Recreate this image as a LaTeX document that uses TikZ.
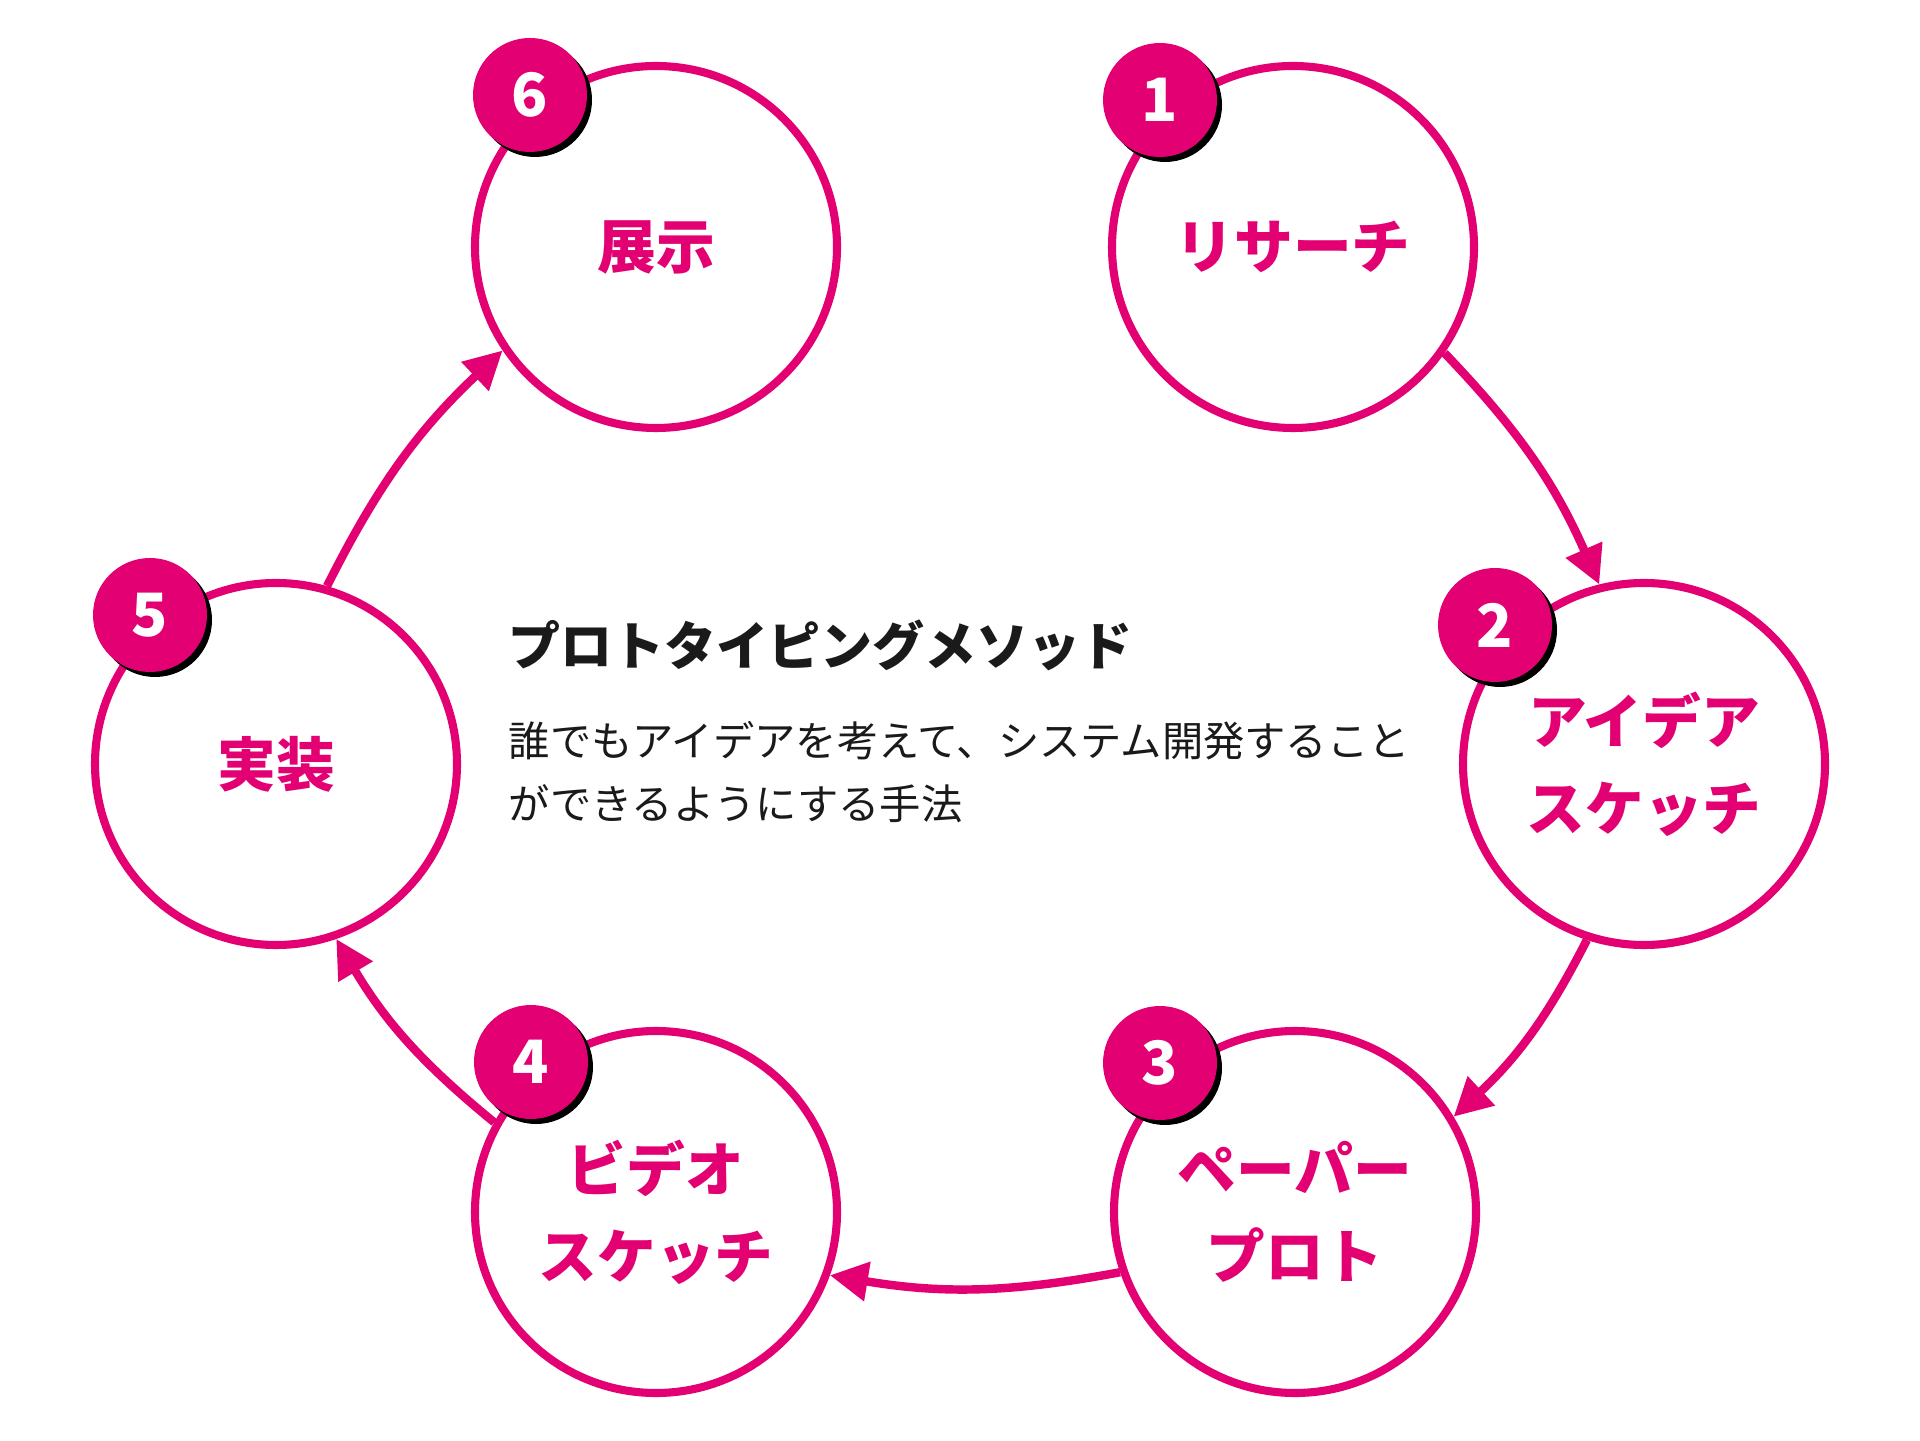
\documentclass[tikz,border=0pt]{standalone}
\usepackage{fontspec}
\newfontfamily\jp{Noto Sans CJK JP}
\usetikzlibrary{arrows.meta,shadows}
\definecolor{brand}{RGB}{227,0,115}
\definecolor{ink}{RGB}{26,26,26}
\tikzset{
  stage/.style={circle,draw=brand,line width=2.3pt,fill=white,minimum size=3.62cm,
    inner sep=0pt,align=center,text=brand,font=\jp\bfseries\fontsize{16.7}{24.8}\selectfont},
  badge/.style={circle,fill=brand,minimum size=1.14cm,inner sep=0pt,text=white,
    font=\jp\bfseries\fontsize{17}{18}\selectfont,
    drop shadow={shadow xshift=.05cm,shadow yshift=-.05cm,fill=black,opacity=1}},
  flow/.style={draw=brand,line width=2.4pt,-{Triangle[length=.38cm,width=.38cm]},bend left=10}
}
\begin{document}
\begin{tikzpicture}
    \fill[white] (0,0) rectangle (19.2,14.4);
    % stages
    \node[stage] (research) at (12.93,11.93) {リサーチ};
    \node[stage] (idea) at (16.44,6.76) {アイデア\\スケッチ};
    \node[stage] (paper) at (12.95,2.28) {ペーパー\\プロト};
    \node[stage] (video) at (6.56,2.28) {ビデオ\\スケッチ};
    \node[stage] (impl) at (2.76,6.76) {実装};
    \node[stage] (exhibit) at (6.56,11.93) {展示};
    % cycle
    \draw[flow] (research.-35) to (idea.104);
    \draw[flow] (idea.252) to (paper.31);
    \draw[flow] (paper.199) to (video.-20);
    \draw[flow] (video.151) to (impl.-71);
    \draw[flow] (impl.74) to (exhibit.214);
    % numbers
    \foreach \n/\x/\y in {1/11.60/13.40,2/14.95/8.15,3/11.60/3.77,4/5.31/3.78,5/1.50/8.25,6/5.30/13.45}
    {
    \node[badge] (num\n) at (\x,\y) {\n};
    }
    \node[anchor=west,inner sep=0pt,text=ink,font=\jp\bfseries\fontsize{14.8}{18}\selectfont] (title) at (5.08,7.95) {プロトタイピングメソッド};
    \node[anchor=west,inner sep=0pt,align=left,text=ink,font=\jp\fontsize{11.75}{17.9}\selectfont] (desc) at (5.08,6.675)
      {誰でもアイデアを考えて、システム開発すること\\ができるようにする手法};
\end{tikzpicture}
\end{document}
